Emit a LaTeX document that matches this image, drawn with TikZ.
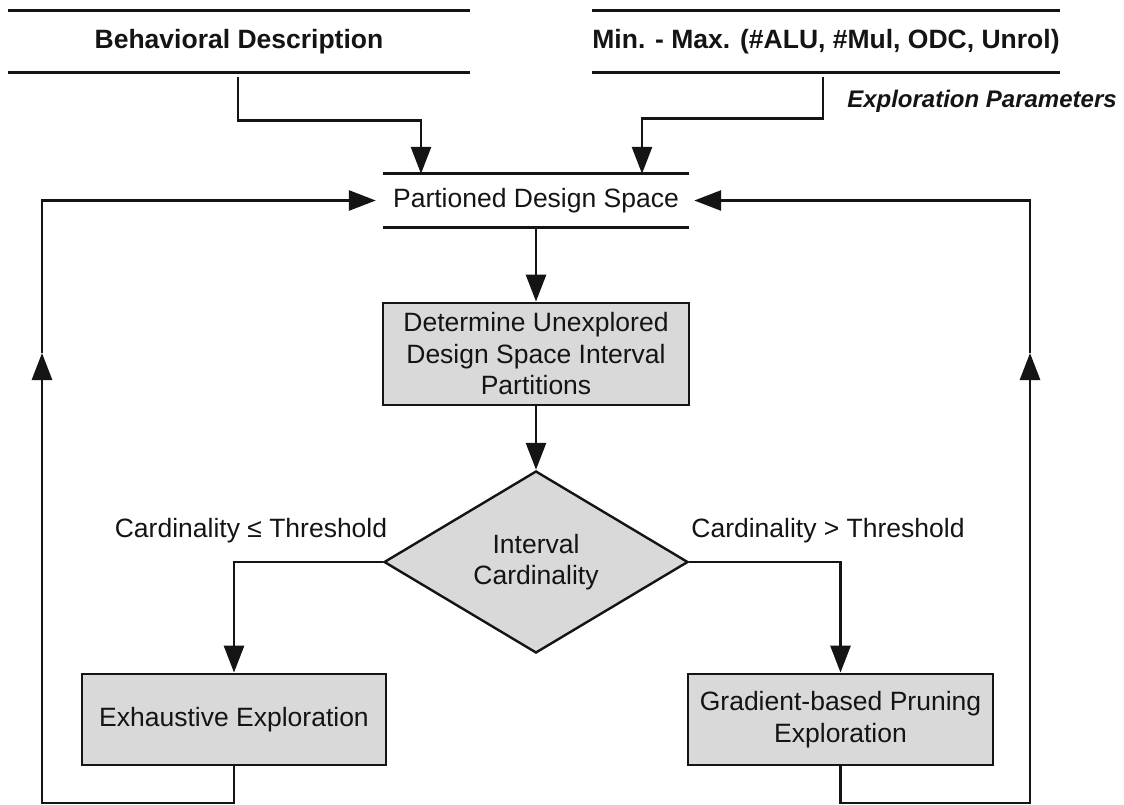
\documentclass[tikz,border=0pt]{standalone}
\usepackage{fontspec}
\setmainfont{Liberation Sans}
\usetikzlibrary{arrows.meta,shapes.geometric}
\definecolor{boxgray}{RGB}{217,217,217}
\definecolor{inkblack}{RGB}{20,20,20}
\tikzset{
  txt/.style={font=\fontsize{26.5}{31.5}\selectfont, text=inkblack, align=center, inner sep=0pt},
  datanode/.style={txt, minimum height=61pt},
  rulebar/.style={line width=2.8pt, draw=inkblack},
  procbox/.style={txt, draw=inkblack, fill=boxgray, line width=2.8pt},
  decision/.style={txt, diamond, shape aspect=1.67, draw=inkblack, fill=boxgray, line width=2.4pt, minimum width=304pt, minimum height=182pt},
  arr/.style={line width=2.8pt, draw=inkblack, -{Triangle[length=27pt,width=20pt]}},
  link/.style={line width=2.8pt, draw=inkblack}
}
\begin{document}
\begin{tikzpicture}[x=1pt, y=-1pt]
\useasboundingbox (0,0) rectangle (1124,805);

% inputs
\node[datanode, font=\fontsize{26.5}{31.5}\selectfont\bfseries, minimum width=462pt] (bd) at (239,41.5) {Behavioral Description};
\node[datanode, font=\fontsize{26.5}{31.5}\selectfont\bfseries, minimum width=462pt] (mm) at (826,41.5) {Min. - Max. (\#ALU, \#Mul, ODC, Unrol)};
\node[txt, font=\fontsize{24}{29}\selectfont\bfseries\itshape] (ep) at (982,101) {Exploration Parameters};

% partitioned design space store
\node[txt, minimum width=306pt, minimum height=53pt] (pds) at (536,200.5) {Partioned Design Space};

\foreach \n in {bd,mm,pds}{
  \draw[rulebar] (\n.north west) -- (\n.north east);
  \draw[rulebar] (\n.south west) -- (\n.south east);
}

% process steps
\node[procbox, minimum width=306pt, minimum height=102pt] (det) at (536,354)
  {Determine Unexplored\\Design Space Interval\\Partitions};
\node[decision] (dia) at (536,562) {Interval\\Cardinality};
\node[procbox, minimum width=304pt, minimum height=91pt] (ex) at (234,719.5) {Exhaustive Exploration};
\node[procbox, minimum width=305pt, minimum height=91pt] (gr) at (840.5,719.5) {Gradient-based Pruning\\Exploration};

% branch labels
\node[txt] (lo) at (251,531) {Cardinality ≤ Threshold};
\node[txt] (hi) at (828,531) {Cardinality > Threshold};

% flow
\draw[arr] ([shift={(-1,5)}]bd.south) -- ++(0,43) -| ([xshift=-115pt]pds.north);
\draw[arr] ([shift={(-3,5)}]mm.south) -- ++(0,41) -| ([xshift=106pt]pds.north);
\draw[arr] (pds.south) -- (det.north);
\draw[arr] (det.south) -- (dia.north);
\draw[arr] (dia.west) -| (ex.north);
\draw[arr] (dia.east) -| (gr.north);

% feedback loops
\coordinate (lup) at (42,353);
\coordinate (rup) at (1030,353);
\draw[arr] (ex.south) -- (ex.south |- 0,803) -| (lup);
\draw[arr, shorten >=7pt] (lup) |- (pds.west);
\draw[arr] (gr.south) -- (gr.south |- 0,803) -| (rup);
\draw[arr, shorten >=5pt] (rup) |- (pds.east);
\end{tikzpicture}
\end{document}
